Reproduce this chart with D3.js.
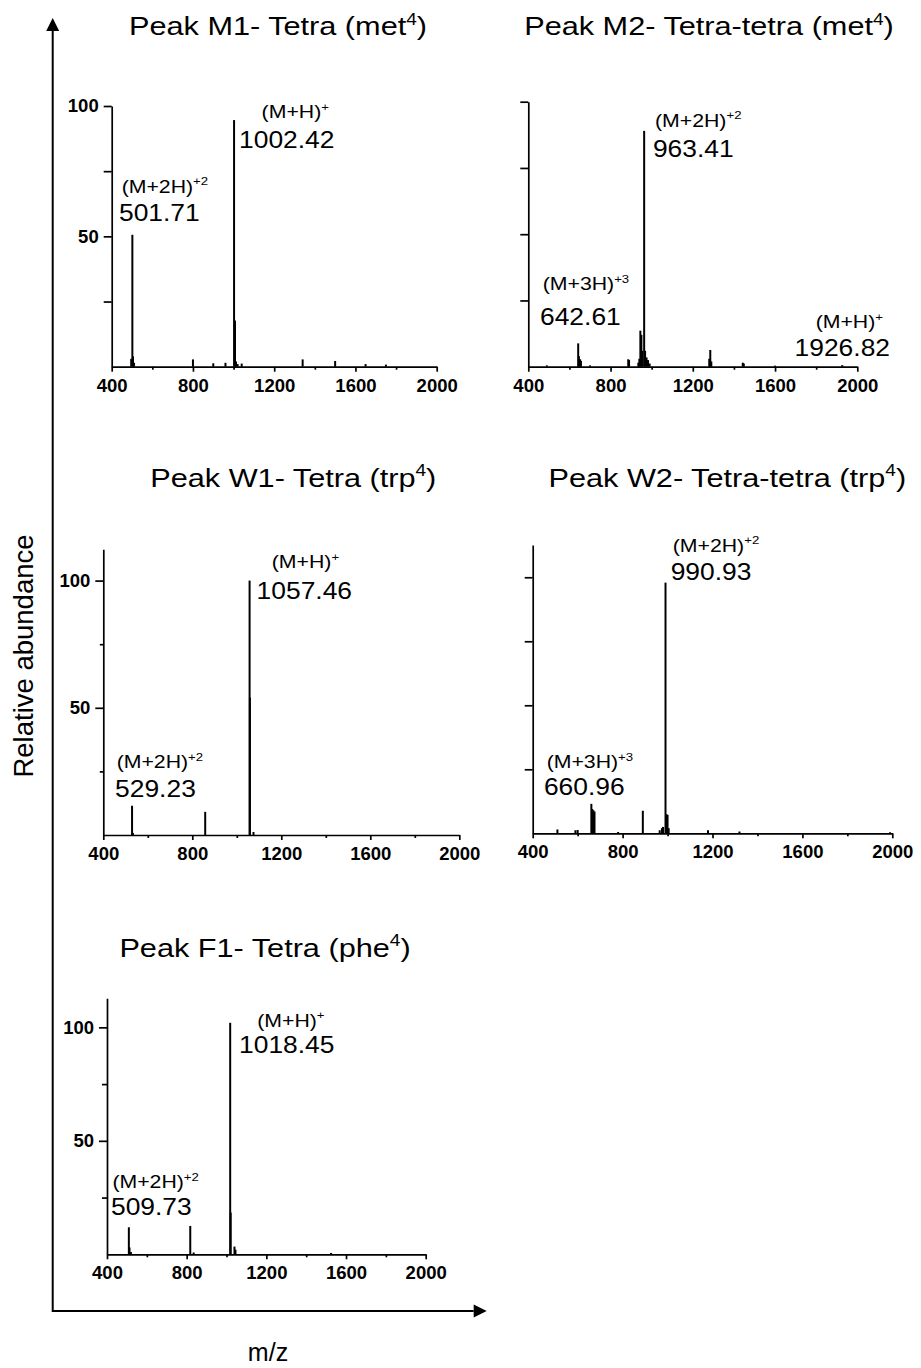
<!DOCTYPE html>
<html>
<head>
<meta charset="utf-8">
<title>MS spectra of tetra / tetra-tetra muropeptides</title>
<script src="https://d3js.org/d3.v7.min.js"></script>
<style>
  body { margin:0; background:#fff; }
  svg { display:block; font-family:"Liberation Sans", Arial, Helvetica, sans-serif; }
</style>
</head>
<body>
<svg id="chart" width="921" height="1368"></svg>
<script>
// ticks shared by every spectrum
const xMajor = [400, 800, 1200, 1600, 2000];
const xMinor = [600, 1000, 1400, 1800];
const yMajor = [50, 100];
const yMinor = [25, 75];

// peak lists: m/z and relative abundance (%)
const m1Mz = [496, 501.71, 505, 510, 800, 900, 960, 1002.42, 1007, 1012, 1020, 1040, 1340, 1500, 1650, 1750];
const m1Ab = [3, 50.6, 4, 1.5, 2.8, 1.3, 1.5, 94.6, 17.7, 2, 1, 1.2, 2.8, 2.2, 1, 0.8];

const m2Mz = [490, 642.61, 646, 652, 656, 700, 886, 890, 935, 940, 945, 950, 955, 963.41, 968, 975, 982, 990, 1280, 1285, 1290, 1443, 1448, 1600, 1926.82];
const m2Ab = [0.5, 8.8, 4, 2.8, 2.2, 0.5, 2.8, 2.5, 1.5, 3, 13.6, 12, 6, 89, 6, 3.5, 2.5, 1.2, 3, 6.3, 2, 1.5, 1.2, 0.4, 0.6];

const w1Mz = [529.23, 533, 858, 1057.46, 1059, 1075];
const w1Ab = [11.5, 0.8, 9.1, 100, 54, 1.2];

const w2Mz = [510, 590, 600, 660.96, 665, 670, 675, 780, 890, 965, 975, 980, 990.93, 995, 1000, 1005, 1180, 1320, 1990];
const w2Ab = [1.5, 1.2, 1.3, 11.5, 9.5, 9, 8.5, 0.5, 8.8, 1.2, 2, 2.5, 97.9, 7.5, 7.2, 2, 1.2, 0.7, 0.4];

const f1Mz = [509.73, 513, 520, 818, 835, 1018.45, 1021, 1040, 1045, 1525];
const f1Ab = [11.9, 3, 1, 12.5, 0.8, 102, 18.4, 3.4, 2, 0.6];

// annotations: ion, charge, observed mass
const m1Ions = ["(M+H)", "(M+2H)"];
const m1Charge = ["+", "+2"];
const m1Mass = ["1002.42", "501.71"];

const m2Ions = ["(M+2H)", "(M+3H)", "(M+H)"];
const m2Charge = ["+2", "+3", "+"];
const m2Mass = ["963.41", "642.61", "1926.82"];

const w1Ions = ["(M+H)", "(M+2H)"];
const w1Charge = ["+", "+2"];
const w1Mass = ["1057.46", "529.23"];

const w2Ions = ["(M+2H)", "(M+3H)"];
const w2Charge = ["+2", "+3"];
const w2Mass = ["990.93", "660.96"];

const f1Ions = ["(M+H)", "(M+2H)"];
const f1Charge = ["+", "+2"];
const f1Mass = ["1018.45", "509.73"];

// layout of the five panels (pixels) and where the labels sit (in data units)
const panels = [
  { title: "Peak M1- Tetra (met", sup: "4", mz: m1Mz, ab: m1Ab, ions: m1Ions, charge: m1Charge, mass: m1Mass,
    x0: 111.7, x1: 436.7, yBase: 366.7, yTop: 106, yMax: 100, yLabels: true, minorLen: 8,
    tx: 278, ty: 35,
    ionAt: [[1138, 95.3], [449, 66.8]], massAt: [[1027, 83.7], [436, 55.8]], anchor: ["start", "start"] },
  { title: "Peak M2- Tetra-tetra (met", sup: "4", mz: m2Mz, ab: m2Ab, ions: m2Ions, charge: m2Charge, mass: m2Mass,
    x0: 528.3, x1: 857.3, yBase: 366.7, yTop: 101.7, yMax: 100, yLabels: false, minorLen: 8,
    tx: 709, ty: 35,
    ionAt: [[1016, 90.6], [470, 28.9], [2125, 14.6]], massAt: [[1006, 79.2], [457, 15.7], [2159, 4.0]],
    anchor: ["start", "start", "end"] },
  { title: "Peak W1- Tetra (trp", sup: "4", mz: w1Mz, ab: w1Ab, ions: w1Ions, charge: w1Charge, mass: w1Mass,
    x0: 103.3, x1: 459.3, yBase: 835, yTop: 549.3, yMax: 112.3, yLabels: true, minorLen: 3.5,
    tx: 293.3, ty: 486.7,
    ionAt: [[1157, 104.9], [460, 26.2]], massAt: [[1089, 92.7], [453, 14.8]], anchor: ["start", "start"] },
  { title: "Peak W2- Tetra-tetra (trp", sup: "4", mz: w2Mz, ab: w2Ab, ions: w2Ions, charge: w2Charge, mass: w2Mass,
    x0: 532.7, x1: 892.3, yBase: 833.3, yTop: 545, yMax: 112.6, yLabels: false, minorLen: 8,
    tx: 727.3, ty: 486.7,
    ionAt: [[1023, 110], [462, 25.4]], massAt: [[1014, 98.9], [450, 15.0]], anchor: ["start", "start"] },
  { title: "Peak F1- Tetra (phe", sup: "4", mz: f1Mz, ab: f1Ab, ions: f1Ions, charge: f1Charge, mass: f1Mass,
    x0: 107, x1: 425.7, yBase: 1254.3, yTop: 998.3, yMax: 112.8, yLabels: true, minorLen: 5,
    tx: 265, ty: 956.7,
    ionAt: [[1154, 100.3], [427, 29.1]], massAt: [[1063, 88.8], [420, 17.3]], anchor: ["start", "start"] }
];

const svg = d3.select("#chart");

// text with an optional superscript and an optional tail after it;
// the figure's lettering is stretched sideways, hence sx
function stretchedText(g, x, y, main, sup, tail, size, sx, anchor) {
  const t = g.append("text")
      .attr("transform", `translate(${x},${y}) scale(${sx},1)`)
      .attr("text-anchor", anchor)
      .attr("font-size", size)
      .attr("fill", "#000");
  t.append("tspan").text(main);
  if (sup) {
    t.append("tspan").attr("font-size", size * 0.62).attr("dy", -size * 0.4).text(sup);
  }
  if (tail) {
    t.append("tspan").attr("dy", size * 0.4).text(tail);
  }
  return t;
}

panels.forEach(p => {
  const g = svg.append("g");
  const x = d3.scaleLinear().domain([400, 2000]).range([p.x0, p.x1]);
  const y = d3.scaleLinear().domain([0, p.yMax]).range([p.yBase, p.yTop]);

  // x axis
  const xAx = g.append("g")
      .attr("transform", `translate(0,${p.yBase})`)
      .call(d3.axisBottom(x).tickValues(xMajor).tickSize(5).tickSizeOuter(0).tickPadding(7).tickFormat(d3.format("d")));
  xAx.selectAll("text").attr("font-size", 18.5).attr("font-weight", "bold").attr("fill", "#000");
  g.append("g")
      .attr("transform", `translate(0,${p.yBase})`)
      .call(d3.axisBottom(x).tickValues(xMinor).tickSize(3).tickFormat(""))
      .call(a => a.select(".domain").remove());

  // y axis
  const yAx = g.append("g")
      .attr("transform", `translate(${p.x0},0)`)
      .call(d3.axisLeft(y).tickValues(yMajor).tickSize(8).tickSizeOuter(0).tickPadding(5)
        .tickFormat(p.yLabels ? d3.format("d") : ""));
  yAx.selectAll("text").attr("font-size", 18.5).attr("font-weight", "bold").attr("fill", "#000");
  g.append("g")
      .attr("transform", `translate(${p.x0},0)`)
      .call(d3.axisLeft(y).tickValues(yMinor).tickSize(p.minorLen).tickFormat(""))
      .call(a => a.select(".domain").remove());

  g.selectAll(".domain, .tick line").attr("stroke", "#000").attr("stroke-width", 1.7);

  // peaks as sticks
  g.append("g").selectAll("line")
    .data(d3.zip(p.mz, p.ab))
    .join("line")
      .attr("x1", d => x(d[0]))
      .attr("x2", d => x(d[0]))
      .attr("y1", p.yBase)
      .attr("y2", d => y(d[1]))
      .attr("stroke", "#000")
      .attr("stroke-width", 2);

  // title
  stretchedText(g, p.tx, p.ty, p.title, p.sup, ")", 26, 1.18, "middle");

  // peak annotations
  p.ions.forEach((ion, i) => {
    const a = p.anchor[i];
    stretchedText(g, x(p.ionAt[i][0]), y(p.ionAt[i][1]), ion, p.charge[i], null, 18.5, 1.15, a);
    stretchedText(g, x(p.massAt[i][0]), y(p.massAt[i][1]), p.mass[i], null, null, 24, 1.1, a);
  });
});

// outer frame with arrows
const frame = { x: 52.7, top: 18, bottom: 1311, right: 486.7, head: 13, half: 6.5 };
svg.append("path")
    .attr("d", `M${frame.x},${frame.bottom} V${frame.top + frame.head} M${frame.x - 1},${frame.bottom} H${frame.right - frame.head}`)
    .attr("stroke", "#000").attr("stroke-width", 2).attr("fill", "none");
svg.append("path")
    .attr("d", `M${frame.x},${frame.top} L${frame.x - frame.half},${frame.top + frame.head} L${frame.x + frame.half},${frame.top + frame.head}Z`)
    .attr("fill", "#000");
svg.append("path")
    .attr("d", `M${frame.right},${frame.bottom} L${frame.right - frame.head},${frame.bottom - frame.half} L${frame.right - frame.head},${frame.bottom + frame.half}Z`)
    .attr("fill", "#000");

svg.append("text")
    .attr("transform", "translate(33,656) rotate(-90)")
    .attr("text-anchor", "middle")
    .attr("font-size", 27.5)
    .text("Relative abundance");

svg.append("text")
    .attr("x", 268).attr("y", 1361)
    .attr("text-anchor", "middle")
    .attr("font-size", 25)
    .text("m/z");
</script>
</body>
</html>
